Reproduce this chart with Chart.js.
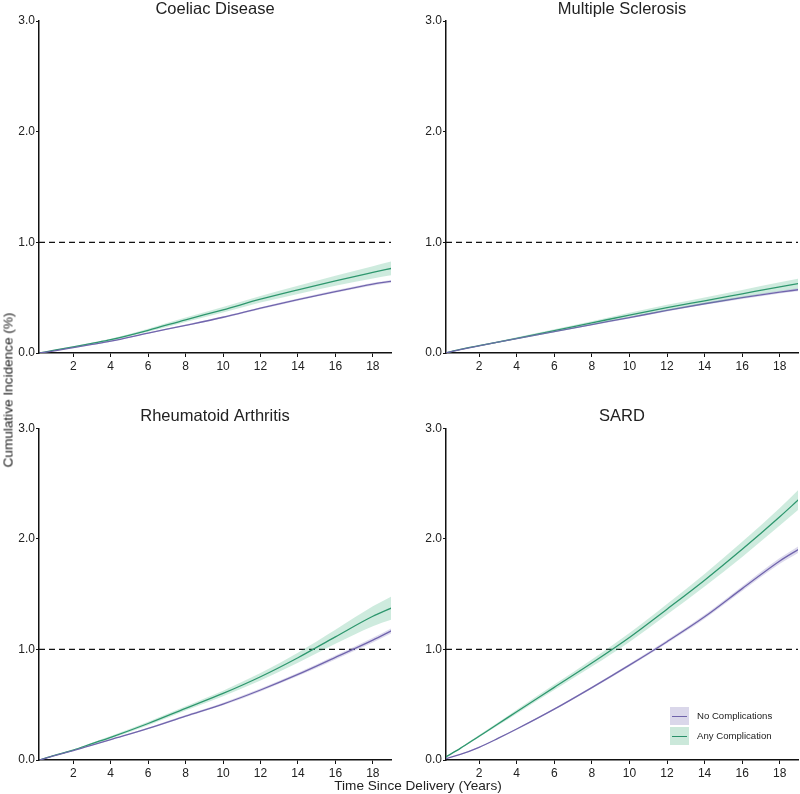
<!DOCTYPE html>
<html>
<head>
<meta charset="utf-8">
<script src="https://cdn.jsdelivr.net/npm/chart.js@4.4.1/dist/chart.umd.min.js"></script>
<style>
  body { margin: 0; background: #fff; font-family: "Liberation Sans", Arial, sans-serif; }
  #wrap { position: relative; width: 800px; height: 794px; }
  .panel { position: absolute; width: 400px; height: 397px; }
  .txt { position: absolute; color: #222; white-space: nowrap; }
  #ytitle { font-size: 13.6px; left: 8px; top: 390px; transform: translate(-50%, -50%) rotate(-90deg); }
  #xtitle { font-size: 13.6px; left: 418px; top: 785px; transform: translate(-50%, -50%); }
  #legend { position: absolute; left: 670px; top: 707px; width: 130px; font-size: 9.6px; color: #222; }
  .item { position: relative; height: 20px; }
  .patch { position: absolute; left: 0; top: 0; width: 19px; height: 18px; }
  .patch i { position: absolute; left: 2px; right: 2px; top: 8.5px; height: 1.2px; }
  .item span { position: absolute; left: 27px; top: 3px; white-space: nowrap; }
</style>
</head>
<body>
<div id="wrap">
  <div class="panel" style="left:0;top:0"><canvas id="c0"></canvas></div>
  <div class="panel" style="left:400px;top:0"><canvas id="c1"></canvas></div>
  <div class="panel" style="left:0;top:397px"><canvas id="c2"></canvas></div>
  <div class="panel" style="left:400px;top:397px"><canvas id="c3"></canvas></div>
  <div id="ytitle" class="txt">Cumulative Incidence (%)</div>
  <div id="xtitle" class="txt">Time Since Delivery (Years)</div>
  <div id="legend">
    <div class="item"><div class="patch" style="background:#dad7ea"><i style="background:#6f63aa"></i></div><span>No Complications</span></div>
    <div class="item"><div class="patch" style="background:#cbe8da"><i style="background:#2a8f6a"></i></div><span>Any Complication</span></div>
  </div>
</div>
<script>
const years = [0.2, 1, 2, 3, 4, 6, 8, 10, 12, 14, 16, 18, 19];
const xTicks = [2, 4, 6, 8, 10, 12, 14, 16, 18];
const yTicks = [0, 1, 2, 3];

const titles = ['Coeliac Disease', 'Multiple Sclerosis', 'Rheumatoid Arthritis', 'SARD'];

// No Complications (mean, CI half width)
const noneMean = [
  [0, 0.02, 0.048, 0.077, 0.107, 0.18, 0.25, 0.323, 0.405, 0.483, 0.555, 0.622, 0.648],
  [0, 0.03, 0.065, 0.098, 0.13, 0.193, 0.257, 0.32, 0.385, 0.445, 0.50, 0.55, 0.572],
  [0, 0.04, 0.085, 0.135, 0.185, 0.285, 0.397, 0.506, 0.633, 0.774, 0.928, 1.084, 1.169],
  [0.01, 0.05, 0.115, 0.195, 0.28, 0.46, 0.655, 0.858, 1.07, 1.295, 1.55, 1.80, 1.905]
];
const noneCI = [
  [0, 0.002, 0.003, 0.004, 0.005, 0.006, 0.007, 0.008, 0.009, 0.01, 0.011, 0.012, 0.013],
  [0, 0.002, 0.003, 0.004, 0.005, 0.006, 0.007, 0.008, 0.009, 0.01, 0.011, 0.012, 0.013],
  [0, 0.002, 0.003, 0.004, 0.005, 0.007, 0.009, 0.011, 0.013, 0.015, 0.018, 0.021, 0.023],
  [0, 0.003, 0.004, 0.005, 0.006, 0.008, 0.010, 0.012, 0.015, 0.018, 0.022, 0.026, 0.03]
];

// Any Complication (mean, CI half width)
const anyMean = [
  [0, 0.025, 0.055, 0.087, 0.12, 0.205, 0.30, 0.39, 0.486, 0.571, 0.652, 0.728, 0.765],
  [0, 0.032, 0.066, 0.099, 0.133, 0.202, 0.272, 0.343, 0.41, 0.472, 0.535, 0.598, 0.627],
  [0, 0.042, 0.09, 0.148, 0.205, 0.33, 0.467, 0.602, 0.753, 0.925, 1.114, 1.30, 1.375],
  [0.025, 0.105, 0.215, 0.325, 0.437, 0.657, 0.877, 1.108, 1.364, 1.626, 1.905, 2.20, 2.355]
];
const anyCI = [
  [0, 0.003, 0.005, 0.007, 0.009, 0.014, 0.02, 0.025, 0.03, 0.037, 0.045, 0.055, 0.062],
  [0, 0.003, 0.005, 0.007, 0.009, 0.012, 0.016, 0.02, 0.025, 0.03, 0.035, 0.041, 0.045],
  [0, 0.004, 0.006, 0.009, 0.012, 0.016, 0.02, 0.025, 0.033, 0.045, 0.063, 0.09, 0.105],
  [0, 0.006, 0.01, 0.014, 0.018, 0.025, 0.032, 0.04, 0.048, 0.057, 0.068, 0.08, 0.09]
];

const refLine = [1, 1];

const purple = '#6f63aa', purpleBand = 'rgba(120,108,182,0.25)';
const green = '#2a8f6a', greenBand = 'rgba(60,175,125,0.25)';

function pts(arr) {
  return arr.map((v, i) => ({ x: years[i], y: v }));
}
function band(mean, ci, sign) {
  return mean.map((v, i) => ({ x: years[i], y: v + sign * ci[i] }));
}

function makeChart(id, k) {
  const right = k % 2 === 1;
  const bottom = k >= 2;
  const xMin = right ? 0.24 : 0.17;
  const xMax = 18.97;
  const lineOpts = { pointRadius: 0, borderWidth: 1.3, cubicInterpolationMode: 'monotone', fill: false };
  const bandOpts = { pointRadius: 0, borderWidth: 0, cubicInterpolationMode: 'monotone' };

  new Chart(document.getElementById(id), {
    type: 'line',
    data: {
      datasets: [
        { data: band(noneMean[k], noneCI[k], -1), ...bandOpts, fill: false },
        { data: band(noneMean[k], noneCI[k], 1), ...bandOpts, fill: '-1', backgroundColor: purpleBand },
        { data: band(anyMean[k], anyCI[k], -1), ...bandOpts, fill: false },
        { data: band(anyMean[k], anyCI[k], 1), ...bandOpts, fill: '-1', backgroundColor: greenBand },
        { data: pts(noneMean[k]), ...lineOpts, borderColor: purple },
        { data: pts(anyMean[k]), ...lineOpts, borderColor: green },
        {
          data: [{ x: xMin, y: refLine[0] }, { x: xMax, y: refLine[1] }],
          pointRadius: 0, borderWidth: 1.2, borderColor: '#111', borderDash: [6, 4], fill: false
        }
      ]
    },
    options: {
      responsive: false,
      animation: false,
      devicePixelRatio: 1,
      layout: { padding: { left: 0, right: right ? 2 : 9, top: 0, bottom: 0 } },
      plugins: {
        legend: { display: false },
        tooltip: { enabled: false },
        title: {
          display: true,
          text: titles[k],
          fullSize: false,
          color: '#222',
          font: { family: '"Liberation Sans", Arial, sans-serif', size: 16.5, weight: 'normal', lineHeight: 1.2 },
          padding: bottom ? { top: 10, bottom: 1.5 } : { top: 0, bottom: 1.2 }
        }
      },
      scales: {
        x: {
          type: 'linear',
          min: xMin,
          max: xMax,
          afterBuildTicks: (s) => { s.ticks = xTicks.map(v => ({ value: v })); },
          afterFit: (s) => { s.height = bottom ? 34 : 44; },
          border: { display: true, color: '#111', width: 1.5 },
          grid: { display: true, drawOnChartArea: false, drawTicks: true, tickLength: 4, color: '#111', lineWidth: 1 },
          ticks: {
            color: '#222', padding: 2, maxRotation: 0,
            font: { family: '"Liberation Sans", Arial, sans-serif', size: 12 }
          }
        },
        y: {
          min: 0,
          max: 3,
          afterBuildTicks: (s) => { s.ticks = yTicks.map(v => ({ value: v })); },
          afterFit: (s) => { s.width = right ? 46 : 39; },
          border: { display: true, color: '#111', width: 1.5 },
          grid: { display: true, drawOnChartArea: false, drawTicks: true, tickLength: 3, color: '#111', lineWidth: 1 },
          ticks: {
            color: '#222', padding: 1,
            font: { family: '"Liberation Sans", Arial, sans-serif', size: 12 },
            callback: (v) => v.toFixed(1)
          }
        }
      }
    }
  });
}

document.querySelectorAll('canvas').forEach(c => { c.width = 400; c.height = 397; });
makeChart('c0', 0);
makeChart('c1', 1);
makeChart('c2', 2);
makeChart('c3', 3);
</script>
</body>
</html>
